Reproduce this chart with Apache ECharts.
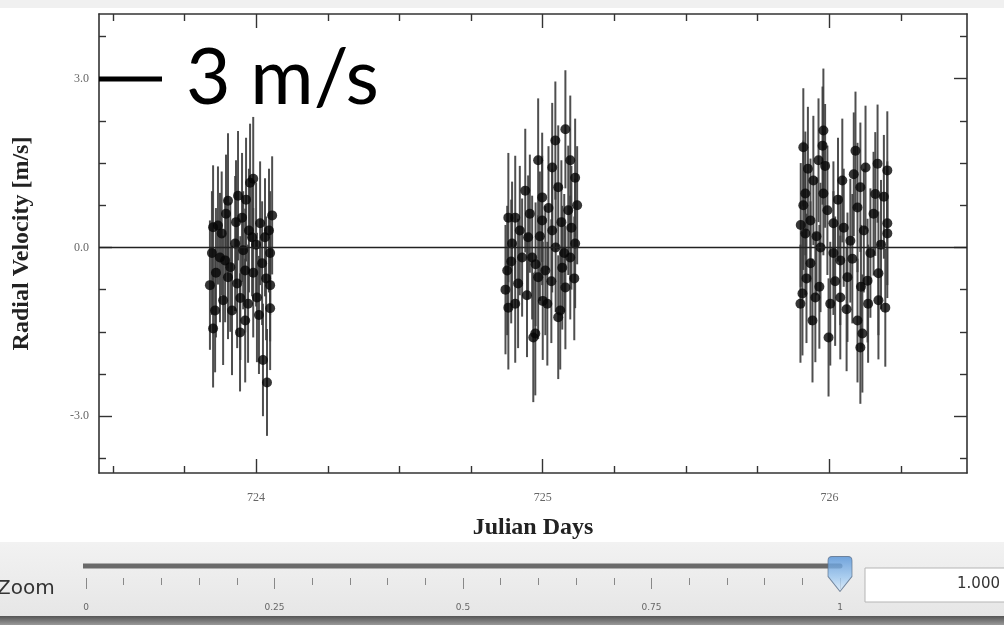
<!DOCTYPE html>
<html>
<head>
<meta charset="utf-8">
<script src="https://cdn.jsdelivr.net/npm/echarts@6/dist/echarts.min.js"></script>
<style>html,body{margin:0;padding:0;background:#fff}#c{width:1004px;height:625px}</style>
</head>
<body>
<div id="c"></div>
<script>
// ---- data ----
const julianDays = [
  723.850,723.846,723.839,723.850,723.867,723.874,723.902,723.937,723.979,723.990,723.944,723.962,724.024,724.038,724.056,724.049,724.049,724.049,723.885,723.902,723.927,723.962,724.003,724.014,723.986,723.951,723.892,723.916,723.972,724.021,724.031,723.857,723.934,
  723.880,723.910,723.930,723.955,723.965,723.990,724.000,724.010,724.035,724.045,723.860,723.895,723.945,723.975,
  724.939,724.880,724.876,724.880,724.904,724.974,724.967,725.044,725.079,725.061,725.054,725.113,725.120,725.113,724.998,724.984,725.016,724.904,724.949,724.914,724.963,725.009,725.033,725.068,725.079,725.089,725.054,725.033,725.096,724.984,724.928,724.893,725.096,724.998,
  724.890,724.920,724.945,724.955,724.975,724.990,725.000,725.020,725.030,725.045,725.065,725.075,725.100,725.110,724.870,
  725.909,725.979,725.976,725.962,725.916,725.909,725.916,725.906,725.899,725.941,725.951,726.003,725.997,726.045,726.038,726.091,726.108,726.126,726.168,726.202,726.195,726.108,726.115,726.098,726.202,726.202,726.171,725.993,726.014,725.944,725.979,726.038,726.073,726.143,726.133,726.063,725.934,725.969,726.154,726.098,726.014,725.934,726.171,
  725.900,725.920,725.925,725.955,725.965,725.985,726.020,726.030,726.050,726.060,726.080,726.085,726.120,726.135,726.160,726.180,726.190,726.110
];
const radialVelocity = [
  -1.44,-0.10,-0.67,0.36,0.39,-0.18,0.83,0.92,1.15,1.22,-1.51,-1.30,-2.00,-2.40,0.57,-0.67,-1.08,-0.10,-0.94,-0.53,0.07,-0.41,-0.89,0.43,0.18,0.53,-0.23,-1.12,-1.00,-0.28,0.18,-1.12,-0.64,
  0.25,-0.35,0.45,-0.05,0.85,-0.45,0.05,-1.20,-0.55,0.30,-0.45,0.60,-0.90,0.30,
  1.01,0.53,-0.41,-1.07,-1.00,-1.53,-1.60,1.90,2.10,-1.12,-1.24,1.24,0.75,0.07,0.89,1.55,-1.00,0.53,0.18,-0.64,-0.18,-0.41,0.30,-0.36,-0.71,0.66,1.07,1.42,1.55,-0.53,-0.18,0.07,-0.18,0.48,
  -0.25,0.30,-0.85,0.60,-0.30,0.20,-0.95,0.70,-0.60,0.00,0.45,-0.10,0.35,-0.55,-0.75,
  1.78,2.08,1.81,1.55,0.96,0.75,0.25,-0.82,-1.00,-1.30,-0.89,-1.00,-1.60,1.19,-0.89,1.72,1.07,1.42,1.49,1.37,-1.07,-1.78,-1.53,-1.30,0.43,0.25,-0.46,0.66,0.43,1.19,0.96,-0.23,0.12,-0.10,-0.59,-0.53,-0.28,0.00,0.60,0.71,-0.10,0.48,-0.94,
  0.40,-0.55,1.40,0.20,-0.70,1.45,-0.60,0.85,0.35,-1.10,-0.20,1.30,0.30,-1.00,0.95,0.05,0.90,-0.70
];
const velocityError = [
  1.05,1.10,1.15,1.10,1.05,1.15,1.20,1.15,1.05,1.10,1.05,1.10,1.00,0.95,1.05,1.00,1.10,1.10,1.15,1.10,1.20,1.10,1.15,1.10,1.05,1.15,1.10,1.15,1.05,1.10,1.05,1.10,1.15,
  1.10,1.15,1.10,1.05,1.10,1.15,1.10,1.05,1.10,1.10,1.15,1.05,1.10,1.10,
  1.10,1.15,1.15,1.10,1.05,1.10,1.15,1.05,1.05,1.05,1.10,1.05,1.05,1.15,1.15,1.10,1.10,1.10,1.10,1.15,1.10,1.15,1.10,1.10,1.10,1.15,1.10,1.15,1.15,1.10,1.05,1.10,1.10,1.15,
  1.10,1.15,1.10,1.05,1.10,1.15,1.05,1.10,1.10,1.15,1.10,1.05,1.10,1.10,1.15,
  1.05,1.10,1.05,1.10,1.10,1.15,1.10,1.10,1.05,1.10,1.15,1.10,1.05,1.10,1.10,1.05,1.15,1.10,1.05,1.05,1.05,1.00,1.05,1.10,1.10,1.15,1.10,1.15,1.10,1.15,1.10,1.15,1.10,1.15,1.10,1.15,1.10,1.15,1.10,1.15,1.10,1.10,1.05,
  1.10,1.15,1.10,1.05,1.10,1.10,1.15,1.10,1.05,1.10,1.15,1.10,1.10,1.05,1.10,1.15,1.10,1.10
];
const xMajorTicks = [724, 725, 726];
const xMinorTicks = [723.5, 723.75, 724.25, 724.5, 724.75, 725.25, 725.5, 725.75, 726.25];
const yMajorTicks = [-3, 0, 3];
const yMinorTicks = [-3.75, -2.25, -1.5, -0.75, 0.75, 1.5, 2.25, 3.75];
const zoomTicks = [0,0.05,0.1,0.15,0.2,0.3,0.35,0.4,0.45,0.55,0.6,0.65,0.7,0.8,0.85,0.9,0.95];
const zoomMajorTicks = [0, 0.25, 0.5, 0.75, 1];
const zoomLabels = ['0', '0.25', '0.5', '0.75', '1'];
const zoomValue = 1.0;

const points = julianDays.map((d, i) => [d, radialVelocity[i], velocityError[i]]);

const X_MIN = 723.452, X_MAX = 726.48, Y_MIN = -4.01, Y_MAX = 4.15;
const serif = 'Liberation Serif';
const axisColor = '#333';

function xAx(pos, ticks, len, withLabels, showLine) {
  return {
    type: 'value', gridIndex: 0, position: pos, min: X_MIN, max: X_MAX,
    axisLine: { show: showLine, onZero: false, lineStyle: { color: axisColor, width: 1.6 } },
    axisTick: { show: true, inside: true, length: len, customValues: ticks, lineStyle: { color: axisColor, width: 1.4 } },
    axisLabel: withLabels ? { show: true, customValues: ticks, margin: 19, color: '#666', fontFamily: serif, fontSize: 12, formatter: v => String(Math.round(v)) } : { show: false },
    splitLine: { show: false }
  };
}
function yAx(pos, ticks, len, withLabels, showLine) {
  return {
    type: 'value', gridIndex: 0, position: pos, min: Y_MIN, max: Y_MAX,
    axisLine: { show: showLine, onZero: false, lineStyle: { color: axisColor, width: 1.6 } },
    axisTick: { show: true, inside: true, length: len, customValues: ticks, lineStyle: { color: axisColor, width: 1.4 } },
    axisLabel: withLabels ? { show: true, customValues: ticks, margin: 10, color: '#666', fontFamily: serif, fontSize: 12, formatter: v => v.toFixed(1) } : { show: false },
    splitLine: { show: false }
  };
}

const xAxes = [
  Object.assign(xAx('bottom', xMajorTicks, 14, true, true), {
    name: 'Julian Days', nameLocation: 'middle', nameGap: 43,
    nameTextStyle: { fontFamily: serif, fontWeight: 'bold', fontSize: 24, color: '#222' }
  }),
  xAx('bottom', xMinorTicks, 7, false, false),
  xAx('top', xMajorTicks, 14, false, true),
  xAx('top', xMinorTicks, 7, false, false),
  {
    type: 'value', gridIndex: 1, position: 'bottom', min: 0, max: 1,
    axisLine: { show: false },
    axisTick: { show: true, inside: false, length: 7, customValues: zoomTicks, lineStyle: { color: '#888', width: 1 } },
    axisLabel: { show: false },
    splitLine: { show: false }
  },
  {
    type: 'value', gridIndex: 1, position: 'bottom', min: 0, max: 1,
    axisLine: { show: false },
    axisTick: { show: true, inside: false, length: 11, customValues: zoomMajorTicks, lineStyle: { color: '#888', width: 1 } },
    axisLabel: { show: true, customValues: zoomMajorTicks, margin: 25, color: '#666', fontFamily: 'DejaVu Sans', fontSize: 9,
      formatter: v => zoomLabels[zoomMajorTicks.indexOf(v)] },
    splitLine: { show: false }
  }
];
const yAxes = [
  Object.assign(yAx('left', yMajorTicks, 13, true, true), {
    name: 'Radial Velocity [m/s]', nameLocation: 'middle', nameGap: 65, nameRotate: 90,
    nameTextStyle: { fontFamily: serif, fontWeight: 'bold', fontSize: 24, color: '#222' }
  }),
  yAx('left', yMinorTicks, 7, false, false),
  yAx('right', yMajorTicks, 13, false, true),
  yAx('right', yMinorTicks, 7, false, false),
  { type: 'value', gridIndex: 1, min: 0, max: 1, show: false }
];

const chart = echarts.init(document.getElementById('c'), null, { renderer: 'canvas' });
chart.setOption({
  animation: false,
  backgroundColor: '#ffffff',
  grid: [
    { left: 99, right: 37, top: 14, bottom: 152 },
    { left: 86, right: 164, top: 558, height: 20 }
  ],
  xAxis: xAxes,
  yAxis: yAxes,
  graphic: [
    { type: 'rect', z: -10, shape: { x: 0, y: 0, width: 1004, height: 8 }, style: { fill: '#f0f0f0' } },
    { type: 'rect', z: -10, shape: { x: 0, y: 542, width: 1004, height: 76 },
      style: { fill: new echarts.graphic.LinearGradient(0, 0, 0, 1, [{ offset: 0, color: '#f2f2f2' }, { offset: 1, color: '#e6e6e6' }]) } },
    { type: 'rect', z: -9, shape: { x: 0, y: 616, width: 1004, height: 9 },
      style: { fill: new echarts.graphic.LinearGradient(0, 0, 0, 1, [{ offset: 0, color: '#555' }, { offset: 1, color: '#999' }]) } },
    { type: 'text', left: -3, top: 579, style: { text: 'Zoom', font: '20px "DejaVu Sans"', fill: '#333' } },
    { type: 'rect', shape: { x: 865, y: 568, width: 145, height: 34 }, style: { fill: '#ffffff', stroke: '#b5b5b5', lineWidth: 1 } },
    { type: 'text', right: 4, top: 577, style: { text: zoomValue.toFixed(3), font: '15px "DejaVu Sans"', fill: '#333', textAlign: 'right' } },
    { type: 'line', shape: { x1: 99, y1: 79, x2: 162, y2: 79 }, style: { stroke: '#000', lineWidth: 5 }, z: 100 },
    { type: 'text', left: 186, top: 41, z: 100, style: { text: '3 m/s', font: '77px Lato', fill: '#000' } }
  ],
  series: [
    {
      type: 'custom', xAxisIndex: 0, yAxisIndex: 0, data: points, z: 2,
      renderItem: function (params, api) {
        const x = api.value(0), y = api.value(1), e = api.value(2);
        const p1 = api.coord([x, y + e]), p2 = api.coord([x, y - e]);
        return { type: 'line', shape: { x1: p1[0], y1: p1[1], x2: p2[0], y2: p2[1] },
          style: { stroke: '#3c3c3c', lineWidth: 2, opacity: 0.9 } };
      }
    },
    {
      type: 'scatter', xAxisIndex: 0, yAxisIndex: 0, data: points.map(p => [p[0], p[1]]),
      symbol: 'circle', symbolSize: 10, itemStyle: { color: '#050505' }, z: 3,
      markLine: { silent: true, symbol: 'none', label: { show: false },
        lineStyle: { color: '#222', width: 1.4, type: 'solid' }, data: [{ yAxis: 0 }] }
    },
    {
      type: 'line', xAxisIndex: 4, yAxisIndex: 4, clip: false, symbol: 'none',
      data: [[-0.011, 0.6], [zoomValue, 0.6]],
      lineStyle: { color: '#6a6a6a', width: 5, cap: 'round' }, z: 2
    },
    {
      type: 'scatter', xAxisIndex: 4, yAxisIndex: 4, clip: false,
      data: [[zoomValue, 0.2]],
      symbol: 'path://M4,0 L20,0 Q24,0 24,4 L24,20 L12,35 L0,20 L0,4 Q0,0 4,0 Z',
      symbolSize: [24, 35],
      itemStyle: {
        color: new echarts.graphic.LinearGradient(0, 0, 0, 1, [{ offset: 0, color: '#4f8fd6' }, { offset: 0.6, color: '#9cc7f0' }, { offset: 1, color: '#dfeefc' }]),
        borderColor: '#5b6f8a', borderWidth: 1
      }, z: 5
    }
  ]
});
</script>
</body>
</html>
